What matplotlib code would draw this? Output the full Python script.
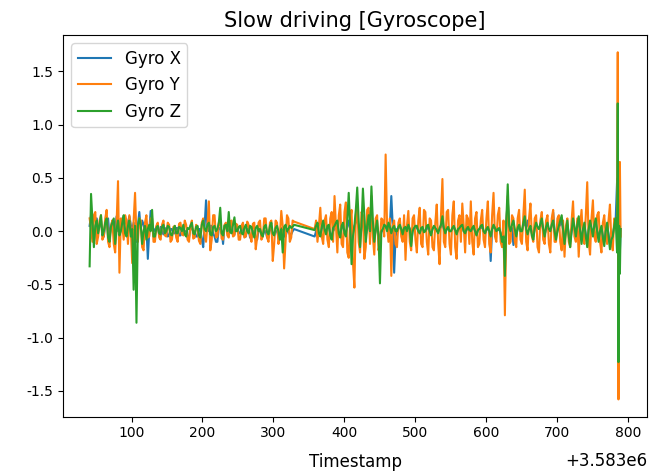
import numpy as np
import matplotlib
matplotlib.use("Agg")
import matplotlib.pyplot as plt

plt.rcParams["axes.unicode_minus"] = False

# Timestamps are stored relative to this base value (seconds)
TS_BASE = 3583000

# Sampling clock: 2 s steps, with a logging gap between 329 and 358
ts_rel = list(range(41, 330, 2)) + list(range(358, 783, 2)) + [784, 785, 786, 787, 788, 789]

gyro_x = [
    # 41 .. 329
    0.05, 0.15, 0.08, -0.10, 0.02, 0.12, 0.00, 0.05, 0.10, -0.03,
    -0.05, 0.06, 0.08, 0.12, -0.05, 0.03, 0.10, 0.08, 0.02, 0.14,
    0.00, 0.05, 0.08, 0.12, 0.05, -0.02, 0.04, 0.08, 0.14, 0.06,
    0.02, 0.08, -0.05, -0.10, 0.05, 0.18, 0.02, 0.10, 0.06, 0.00,
    0.04, -0.26, 0.00, 0.19, 0.05, 0.02, 0.00, 0.04, 0.03, -0.03,
    0.04, 0.00, -0.03, 0.02, 0.03, -0.05, -0.04, 0.02, 0.02, -0.02,
    -0.02, 0.03, 0.03, -0.04, -0.04, 0.02, 0.02, 0.00, 0.00, -0.06,
    -0.06, 0.03, 0.03, 0.00, 0.00, -0.05, -0.05, 0.02, 0.02, -0.08,
    -0.15, 0.05, 0.29, 0.04, 0.00, 0.05, 0.05, -0.02, -0.05, -0.10,
    -0.10, 0.03, 0.03, 0.00, -0.12, 0.05, 0.05, 0.00, 0.00, 0.06,
    0.06, -0.03, -0.03, 0.04, 0.04, -0.02, -0.02, 0.02, 0.02, -0.05,
    -0.05, 0.02, 0.02, -0.06, -0.06, 0.00, 0.00, -0.08, -0.08, 0.02,
    0.02, -0.04, -0.04, 0.00, 0.00, -0.06, -0.06, 0.02, 0.02, -0.03,
    -0.03, 0.00, 0.00, -0.05, -0.05, 0.03, 0.03, -0.05, -0.05, 0.00,
    0.00, -0.03, -0.03, 0.00, 0.02,
    # 358 .. 782
    -0.05, 0.00, 0.03, -0.02, -0.04, 0.02, 0.05, 0.01, 0.00, 0.03,
    0.04, -0.02, -0.05, 0.00, 0.02, 0.04, 0.06, -0.01, -0.04, 0.03,
    0.05, 0.00, -0.02, 0.04, 0.10, 0.02, -0.08, -0.02, 0.05, 0.08,
    0.12, 0.04, -0.05, 0.02, 0.10, 0.05, -0.04, 0.02, 0.06, 0.00,
    0.10, 0.03, -0.05, 0.00, 0.04, -0.02, -0.10, 0.00, 0.00, 0.03,
    0.05, 0.02, 0.02, 0.05, 0.33, 0.05, -0.39, -0.05, 0.02, 0.03,
    0.04, 0.01, -0.02, 0.02, 0.03, 0.01, 0.05, 0.02, -0.10, 0.00,
    0.02, 0.03, 0.04, 0.00, -0.02, 0.02, 0.03, 0.00, 0.00, 0.02,
    0.04, 0.00, -0.03, 0.02, 0.04, 0.02, 0.00, 0.00, 0.02, 0.04,
    0.08, 0.02, -0.02, 0.02, 0.03, 0.00, 0.00, 0.02, 0.04, 0.01,
    -0.02, 0.01, 0.02, 0.03, 0.04, 0.00, -0.02, 0.01, 0.03, 0.01,
    0.00, 0.02, 0.04, 0.00, -0.03, 0.01, 0.02, 0.03, 0.04, 0.00,
    -0.02, 0.01, 0.03, 0.00, -0.28, 0.02, 0.05, 0.02, 0.00, 0.01,
    0.02, -0.02, -0.08, -0.04, -0.30, 0.08, 0.30, 0.04, 0.00, 0.03,
    -0.13, 0.00, -0.03, 0.02, 0.04, 0.00, 0.00, 0.05, 0.08, 0.04,
    0.10, 0.02, 0.04, -0.02, -0.05, 0.02, 0.05, 0.03, 0.02, 0.05,
    0.08, 0.01, -0.03, 0.02, 0.05, 0.01, 0.00, 0.05, 0.18, 0.00,
    -0.05, 0.00, 0.04, 0.06, 0.10, 0.01, -0.08, 0.00, 0.06, -0.03,
    -0.10, 0.00, 0.08, 0.03, -0.03, 0.04, 0.10, 0.00, -0.08, 0.01,
    0.05, -0.03, -0.10, 0.01, 0.06, 0.02, -0.03, 0.04, 0.08, 0.00,
    -0.06, 0.00, 0.03, -0.04, -0.10, 0.00, 0.05, -0.03, -0.12, -0.05,
    -0.03, 0.04, 0.10,
    # 784 .. 789
    0.46, 0.50, -0.60, 0.05, -0.20, 0.02,
]

gyro_y = [
    # 41 .. 329
    0.12, 0.02, -0.10, 0.15, 0.18, -0.12, -0.05, 0.10, 0.15, -0.08,
    -0.05, 0.12, 0.20, -0.10, -0.15, 0.05, 0.10, -0.12, -0.20, 0.08,
    0.47, -0.39, 0.12, 0.05, -0.08, 0.15, 0.10, -0.12, 0.15, 0.02,
    -0.30, 0.10, 0.36, -0.05, -0.10, 0.12, 0.10, -0.15, -0.18, 0.08,
    0.15, -0.06, -0.05, 0.12, 0.12, -0.10, -0.10, 0.05, 0.08, -0.06,
    -0.08, 0.06, 0.10, -0.04, -0.05, 0.08, 0.06, -0.10, -0.08, 0.04,
    0.05, -0.06, -0.10, 0.07, 0.08, -0.03, -0.04, 0.10, 0.06, -0.08,
    -0.10, 0.05, 0.10, -0.07, -0.06, 0.06, 0.04, -0.09, -0.12, 0.08,
    0.12, -0.05, -0.10, 0.06, 0.28, -0.18, -0.08, 0.15, 0.15, -0.06,
    -0.05, 0.08, 0.10, -0.07, -0.08, 0.06, 0.08, -0.04, -0.06, 0.09,
    0.10, -0.05, -0.04, 0.07, 0.06, -0.08, -0.08, 0.05, 0.08, -0.06,
    -0.05, 0.09, 0.06, -0.04, -0.10, 0.07, 0.08, -0.17, -0.06, 0.08,
    0.10, -0.08, -0.05, 0.12, 0.12, -0.06, -0.10, 0.08, 0.10, -0.28,
    -0.12, 0.10, 0.08, -0.12, -0.05, 0.19, 0.05, -0.35, -0.10, 0.15,
    0.12, -0.10, -0.06, 0.10, 0.09,
    # 358 .. 782
    0.02, 0.10, -0.10, 0.05, 0.22, -0.05, -0.12, 0.10, 0.15, -0.08,
    -0.15, 0.12, 0.18, -0.10, 0.33, 0.05, -0.20, 0.15, 0.25, -0.12,
    -0.15, 0.18, 0.27, -0.20, -0.25, 0.10, 0.20, -0.30, -0.53, 0.15,
    0.25, -0.10, -0.20, 0.18, 0.15, -0.26, -0.15, 0.20, 0.22, -0.12,
    0.33, -0.05, -0.22, 0.12, 0.15, -0.18, -0.10, 0.12, 0.10, -0.05,
    0.72, 0.05, -0.10, 0.12, -0.42, 0.05, 0.10, -0.12, -0.15, 0.08,
    0.12, -0.05, -0.10, 0.15, -0.27, 0.05, 0.19, -0.10, -0.18, 0.12,
    0.15, -0.08, -0.20, 0.10, 0.22, -0.12, -0.15, 0.20, 0.18, -0.10,
    -0.22, 0.12, 0.10, -0.15, -0.18, 0.08, 0.25, -0.12, -0.31, 0.15,
    0.49, -0.10, -0.15, 0.18, 0.20, -0.12, -0.22, 0.15, 0.28, -0.15,
    -0.26, 0.10, 0.15, -0.10, 0.26, 0.05, -0.20, 0.15, 0.12, -0.12,
    0.28, -0.10, -0.22, 0.12, 0.18, -0.15, -0.12, 0.10, 0.20, -0.08,
    -0.15, 0.12, 0.28, -0.12, -0.20, 0.15, 0.36, -0.05, -0.10, 0.15,
    0.22, -0.10, -0.15, 0.10, -0.79, 0.05, 0.33, -0.12, -0.10, 0.15,
    0.12, -0.10, -0.15, 0.12, 0.20, -0.08, -0.12, 0.15, 0.39, -0.10,
    -0.18, 0.12, 0.26, -0.05, -0.10, 0.12, 0.15, -0.15, -0.20, 0.10,
    0.18, -0.08, -0.12, 0.10, 0.15, -0.12, -0.20, 0.12, 0.20, -0.10,
    -0.10, 0.12, 0.15, -0.10, -0.18, 0.10, -0.24, 0.05, 0.12, -0.10,
    -0.15, 0.10, 0.28, -0.05, -0.10, 0.12, -0.24, 0.05, 0.20, -0.08,
    -0.12, 0.15, 0.46, -0.10, -0.22, 0.12, 0.29, -0.05, -0.10, 0.15,
    0.18, -0.10, -0.20, 0.08, 0.15, -0.05, -0.12, 0.10, 0.25, -0.10,
    -0.18, 0.12, 0.10,
    # 784 .. 789
    0.05, 1.68, -1.58, 0.20, 0.65, -0.05,
]

gyro_z = [
    # 41 .. 329
    -0.33, 0.35, 0.10, -0.15, 0.05, 0.10, -0.02, 0.06, 0.15, -0.04,
    0.00, 0.08, 0.12, -0.06, -0.10, 0.04, 0.08, 0.12, -0.12, 0.02,
    0.10, -0.04, 0.00, 0.08, 0.15, -0.02, -0.05, 0.05, 0.10, -0.05,
    0.02, -0.55, 0.05, -0.86, 0.05, 0.12, 0.06, -0.12, 0.00, 0.05,
    -0.08, 0.02, 0.06, 0.00, 0.20, -0.05, -0.05, 0.03, 0.05, -0.02,
    -0.03, 0.04, 0.06, -0.02, 0.00, 0.05, 0.04, -0.03, -0.04, 0.02,
    0.05, -0.02, -0.02, 0.04, 0.03, 0.00, 0.06, -0.03, -0.05, 0.03,
    0.02, 0.05, 0.08, -0.02, -0.03, 0.04, 0.05, -0.04, -0.06, 0.06,
    0.10, 0.02, 0.00, 0.06, 0.08, -0.03, -0.04, 0.04, 0.05, 0.00,
    0.02, 0.08, 0.22, -0.02, -0.04, 0.05, 0.06, 0.00, 0.18, -0.01,
    -0.02, 0.06, 0.13, 0.00, 0.00, 0.04, 0.05, -0.02, -0.03, 0.03,
    0.06, 0.00, -0.02, 0.05, 0.04, -0.02, -0.06, 0.03, 0.05, 0.00,
    0.02, -0.03, -0.05, 0.04, 0.06, -0.01, -0.03, 0.05, 0.08, -0.02,
    -0.04, 0.03, 0.05, 0.00, -0.08, 0.02, -0.20, 0.04, 0.06, 0.00,
    0.02, 0.05, 0.03, 0.04, 0.06,
    # 358 .. 782
    0.01, 0.05, 0.08, -0.02, -0.05, 0.04, 0.10, 0.02, -0.03, 0.05,
    0.06, -0.04, -0.08, 0.03, 0.05, 0.08, 0.10, -0.02, -0.06, 0.05,
    0.08, -0.02, -0.05, 0.10, 0.36, 0.05, -0.31, -0.05, 0.05, 0.20,
    0.41, 0.10, -0.15, 0.05, 0.40, 0.15, -0.10, 0.05, 0.15, 0.00,
    0.42, 0.10, -0.10, 0.02, 0.10, -0.05, -0.49, 0.00, 0.02, 0.06,
    0.05, 0.00, 0.08, 0.04, -0.02, 0.03, 0.05, 0.00, 0.00, 0.04,
    0.06, 0.02, -0.03, 0.03, 0.04, 0.00, 0.06, 0.02, -0.14, 0.00,
    0.03, 0.05, 0.05, 0.00, -0.02, 0.03, 0.04, -0.01, 0.00, 0.05,
    0.06, 0.00, -0.04, 0.02, 0.05, 0.03, 0.01, -0.02, 0.03, 0.06,
    0.14, 0.03, -0.02, 0.02, 0.04, 0.00, 0.00, 0.03, 0.05, 0.01,
    -0.03, 0.02, 0.03, 0.05, 0.06, 0.00, -0.02, 0.02, 0.04, 0.01,
    0.00, 0.03, 0.05, 0.00, -0.04, 0.01, 0.02, 0.05, 0.06, 0.00,
    -0.02, 0.02, 0.04, 0.00, -0.05, 0.02, 0.06, 0.03, 0.00, 0.02,
    0.03, -0.02, -0.10, -0.05, -0.42, 0.10, 0.44, 0.05, 0.00, 0.06,
    0.10, 0.02, -0.05, 0.03, 0.06, 0.00, 0.00, 0.08, 0.14, 0.02,
    -0.03, 0.02, 0.05, -0.04, -0.08, 0.03, 0.08, 0.04, 0.02, 0.07,
    0.12, 0.02, -0.05, 0.04, 0.08, 0.02, 0.00, 0.06, 0.10, 0.00,
    -0.08, 0.00, 0.05, 0.10, 0.15, 0.02, -0.12, 0.00, 0.10, -0.05,
    -0.15, 0.00, 0.12, 0.04, -0.05, 0.06, 0.14, 0.00, -0.12, 0.02,
    0.08, -0.05, -0.15, 0.02, 0.10, 0.03, -0.05, 0.06, 0.12, 0.00,
    -0.10, 0.00, 0.05, -0.06, -0.14, 0.00, 0.08, -0.05, -0.17, -0.08,
    -0.05, 0.05, 0.12,
    # 784 .. 789
    -0.20, 1.20, -1.23, 0.05, -0.40, 0.02,
]

timestamps = np.array(ts_rel, dtype=float) + TS_BASE

fig = plt.figure(figsize=(6.57, 4.72), dpi=100)
ax = fig.add_axes([0.096, 0.117, 0.889, 0.809])

ax.plot(timestamps, gyro_x, label="Gyro X")
ax.plot(timestamps, gyro_y, label="Gyro Y")
ax.plot(timestamps, gyro_z, label="Gyro Z")

ax.set_title("Slow driving [Gyroscope]", fontsize=15)
ax.set_xlabel("Timestamp", fontsize=12, labelpad=9)
ax.xaxis.OFFSETTEXTPAD = 8
ax.xaxis.get_offset_text().set_fontsize(12)
ax.tick_params(labelsize=10)
ax.legend(loc="upper left", fontsize=12)

fig.savefig("out.png", dpi=100)
